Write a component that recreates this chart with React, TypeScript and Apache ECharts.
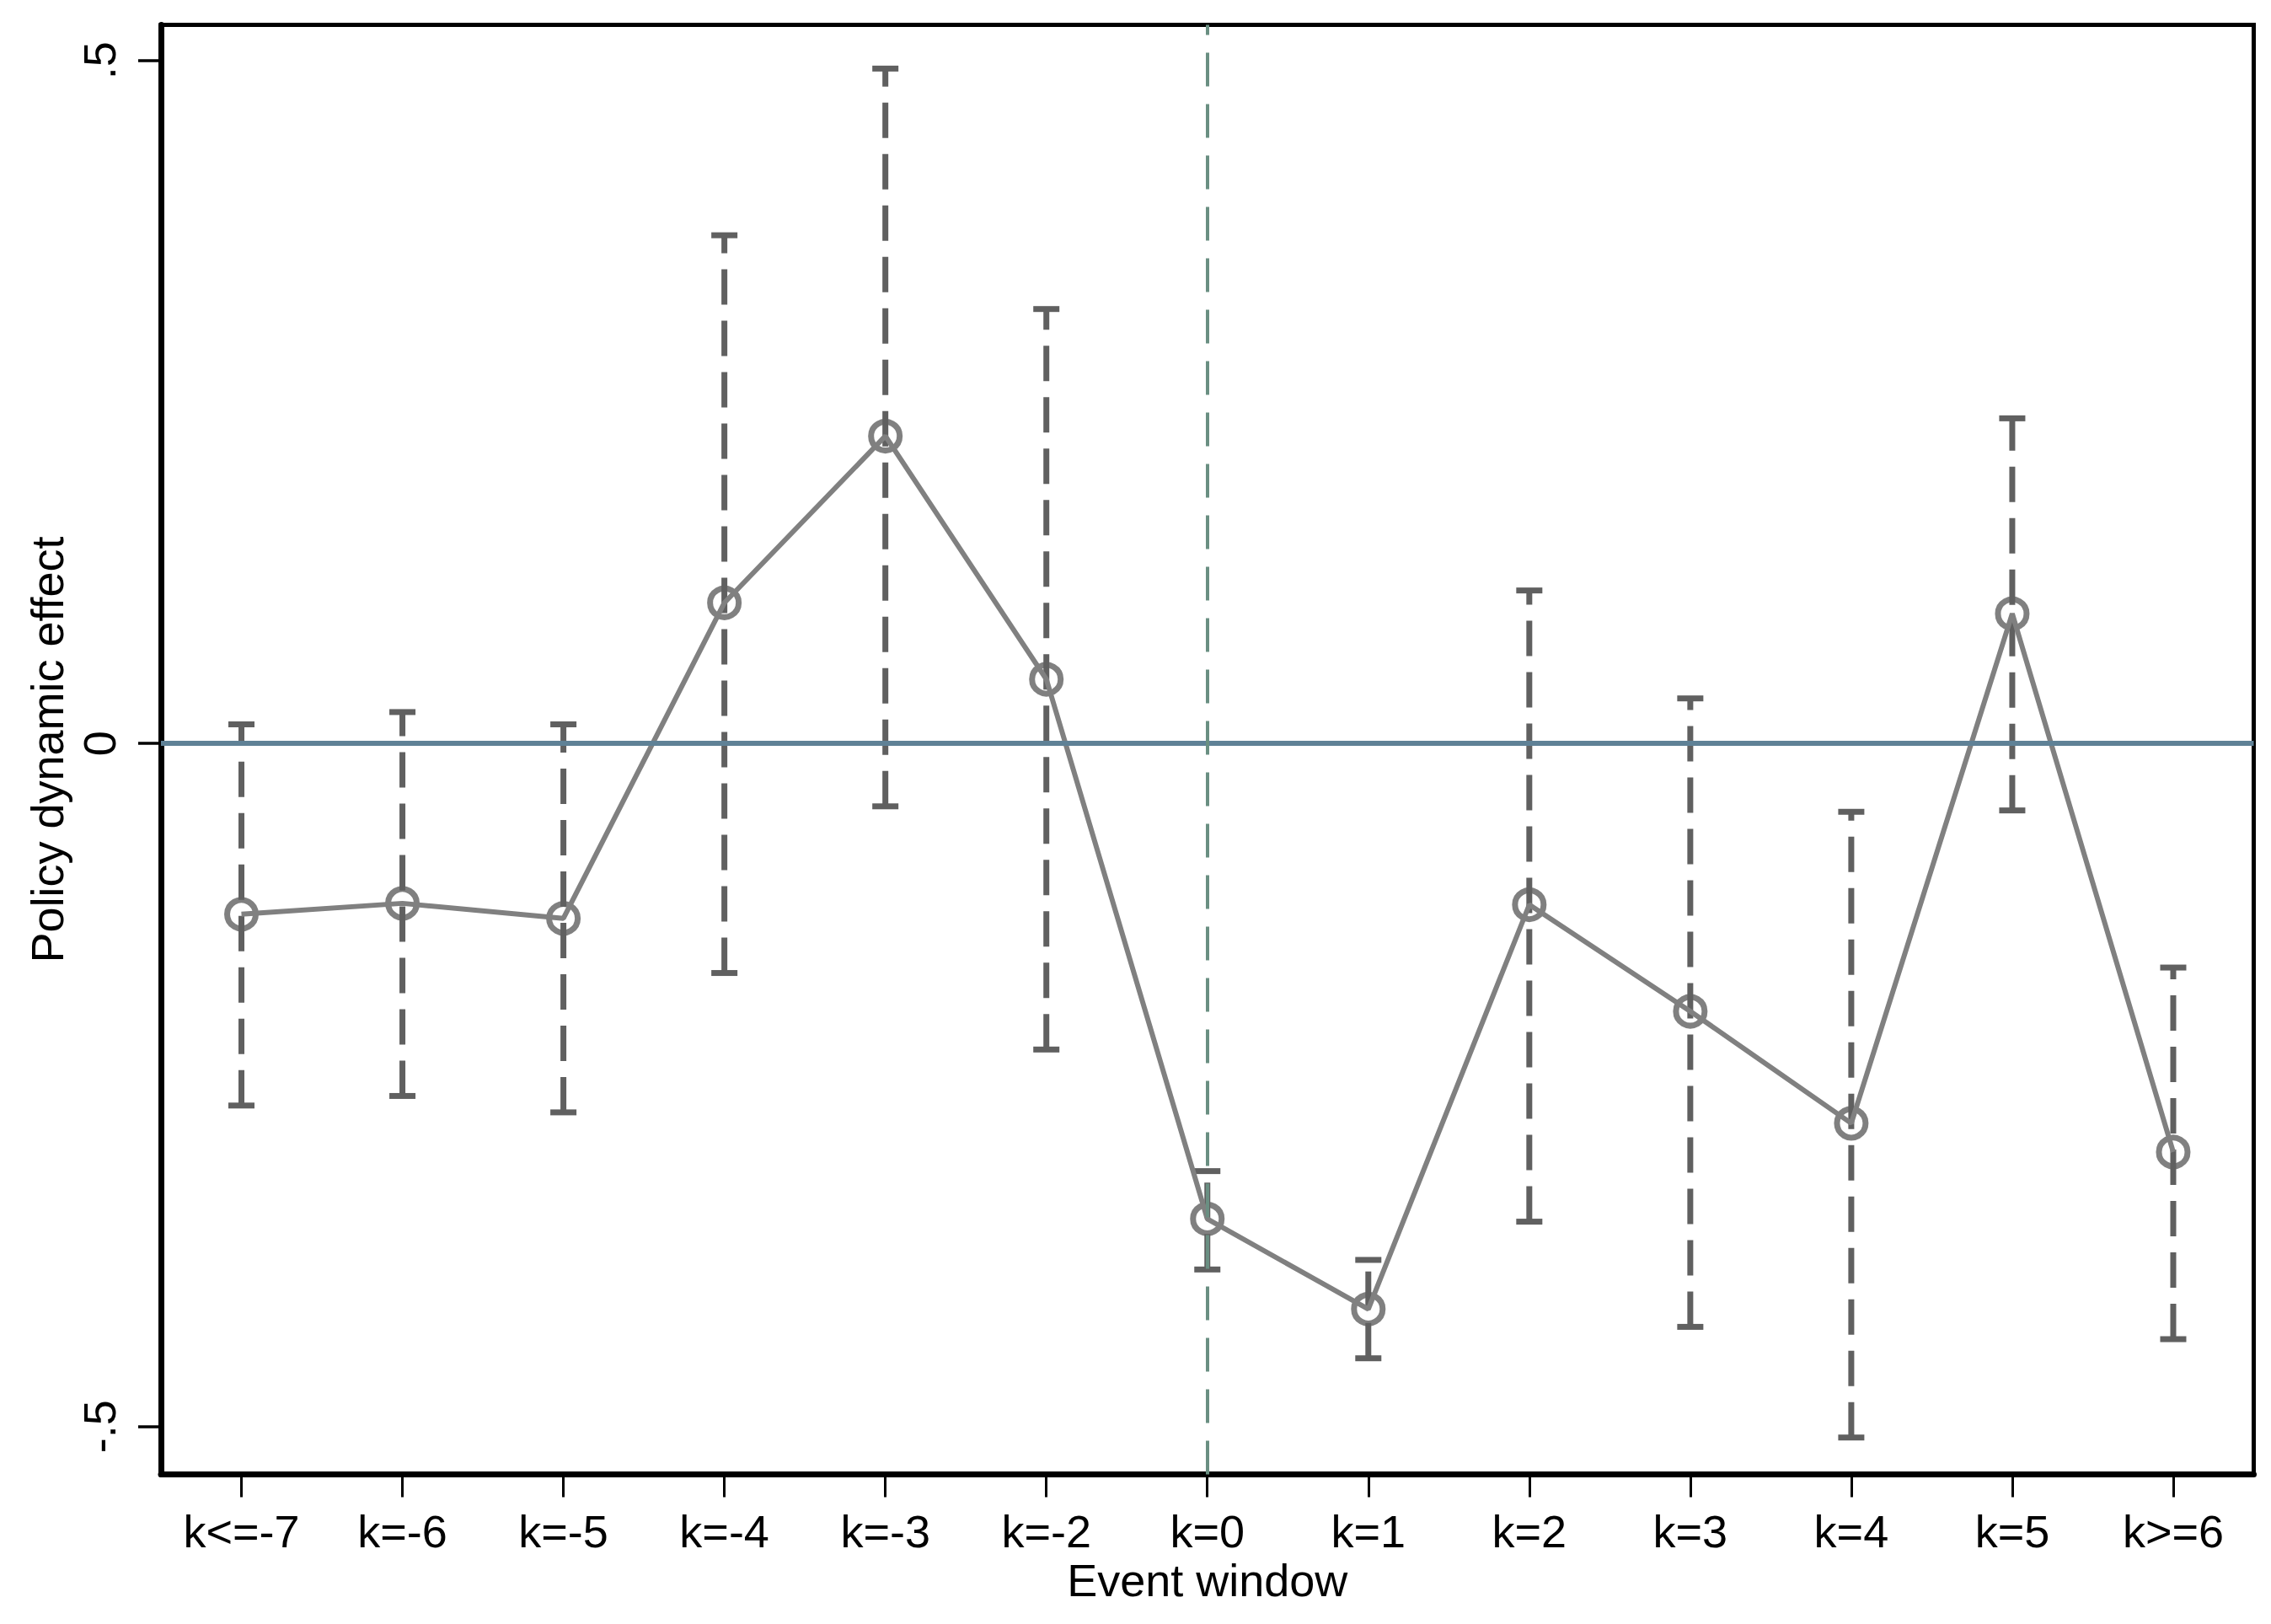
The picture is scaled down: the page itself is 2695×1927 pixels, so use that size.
import React, { useEffect, useRef } from "react";
import * as echarts from "echarts";

const CATEGORIES = [
  "k<=-7", "k=-6", "k=-5", "k=-4", "k=-3", "k=-2",
  "k=0", "k=1", "k=2", "k=3", "k=4", "k=5", "k>=6",
];

// point estimates
const ESTIMATES = [
  -0.125, -0.117, -0.128, 0.103, 0.225, 0.047,
  -0.348, -0.414, -0.118, -0.196, -0.278, 0.095, -0.299,
];

// confidence interval bounds
const CI_UPPER = [
  0.014, 0.023, 0.014, 0.372, 0.494, 0.318,
  -0.313, -0.378, 0.112, 0.033, -0.050, 0.238, -0.164,
];
const CI_LOWER = [
  -0.265, -0.258, -0.270, -0.168, -0.046, -0.224,
  -0.385, -0.450, -0.350, -0.427, -0.508, -0.049, -0.436,
];

const Y_TICKS = [-0.5, 0, 0.5];

const FONT = "'Liberation Sans', Arial, sans-serif";
const BAR_COLOR = "#606060";
const LINE_COLOR = "#808080";

const App: React.FC = () => {
  const chartRef = useRef<HTMLDivElement | null>(null);

  useEffect(() => {
    if (!chartRef.current) return;
    const chart = echarts.init(chartRef.current, undefined, { renderer: "svg" });

    const option: echarts.EChartsOption = {
      animation: false,
      backgroundColor: "#ffffff",
      textStyle: { fontFamily: FONT },
      grid: {
        left: 191,
        right: 20.5,
        top: 29.5,
        bottom: 177.5,
        show: true,
        borderColor: "#000000",
        borderWidth: 5,
        backgroundColor: "transparent",
      },
      xAxis: {
        type: "category",
        data: CATEGORIES,
        boundaryGap: true,
        name: "Event window",
        nameLocation: "middle",
        nameGap: 91,
        nameTextStyle: { fontSize: 54, color: "#000", fontFamily: FONT },
        axisLine: { show: true, onZero: false, lineStyle: { color: "#000", width: 7 } },
        axisTick: {
          show: true,
          alignWithLabel: true,
          length: 27,
          lineStyle: { color: "#000", width: 3 },
        },
        axisLabel: {
          fontSize: 54,
          color: "#000",
          fontFamily: FONT,
          margin: 40,
          interval: 0,
        },
        splitLine: { show: false },
      },
      yAxis: {
        type: "value",
        min: -0.535,
        max: 0.526,
        name: "Policy dynamic effect",
        nameLocation: "middle",
        nameRotate: 90,
        nameGap: 108,
        nameTextStyle: { fontSize: 54, color: "#000", fontFamily: FONT },
        axisLine: { show: true, onZero: false, lineStyle: { color: "#000", width: 7 } },
        axisTick: {
          show: true,
          length: 27,
          customValues: Y_TICKS,
          lineStyle: { color: "#000", width: 3.5 },
        },
        axisLabel: {
          fontSize: 54,
          color: "#000",
          fontFamily: FONT,
          rotate: 90,
          margin: 46,
          customValues: Y_TICKS,
          formatter: (v: number) =>
            v === 0 ? "0" : String(v).replace("0.", "."),
        },
        splitLine: { show: false },
      },
      series: [
        {
          type: "line",
          data: [],
          z: 1,
          silent: true,
          markLine: {
            silent: true,
            symbol: ["none", "none"],
            label: { show: false },
            data: [
              {
                yAxis: 0,
                lineStyle: { color: "#5f8196", width: 6, type: "solid" },
              },
              {
                xAxis: "k=0",
                lineStyle: { color: "#6a8f82", width: 4, type: [40, 21] },
              },
            ],
          },
        },
        {
          type: "custom",
          z: 2,
          data: CATEGORIES.map((_, i) => [i, CI_LOWER[i], CI_UPPER[i]]),
          encode: { x: 0, y: [1, 2] },
          renderItem: (_params: any, api: any) => {
            const idx = api.value(0);
            const lo = api.coord([idx, api.value(1)]);
            const hi = api.coord([idx, api.value(2)]);
            const half = 15.5;
            const stroke = { stroke: BAR_COLOR, lineWidth: 7 };
            return {
              type: "group",
              children: [
                {
                  type: "line",
                  shape: { x1: lo[0], y1: lo[1], x2: hi[0], y2: hi[1] },
                  style: { ...stroke, lineDash: [42, 19], fill: null },
                },
                {
                  type: "line",
                  shape: { x1: lo[0] - half, y1: lo[1], x2: lo[0] + half, y2: lo[1] },
                  style: { ...stroke, fill: null },
                },
                {
                  type: "line",
                  shape: { x1: hi[0] - half, y1: hi[1], x2: hi[0] + half, y2: hi[1] },
                  style: { ...stroke, fill: null },
                },
              ],
            };
          },
        },
        {
          type: "scatter",
          z: 3,
          data: ESTIMATES,
          symbol: "circle",
          symbolSize: 34,
          itemStyle: {
            color: "rgba(0,0,0,0)",
            borderColor: BAR_COLOR,
            borderWidth: 7,
          },
        },
        {
          type: "line",
          z: 4,
          data: ESTIMATES,
          showSymbol: false,
          symbol: "none",
          lineStyle: { color: LINE_COLOR, width: 6 },
        },
      ],
    };

    chart.setOption(option);
    return () => chart.dispose();
  }, []);

  return (
    <div
      ref={chartRef}
      style={{
        position: "absolute",
        left: 0,
        top: 0,
        width: "2695px",
        height: "1927px",
        background: "#ffffff",
      }}
    />
  );
};

export default App;
